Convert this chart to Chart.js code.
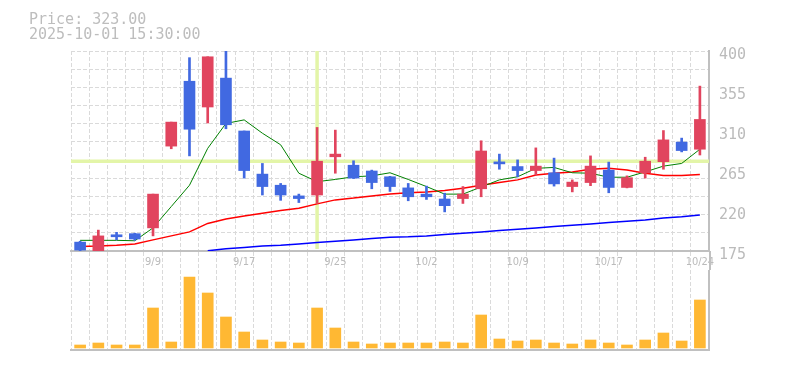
<!DOCTYPE html>
<html>
<head>
<meta charset="utf-8">
<script src="https://cdn.jsdelivr.net/npm/chart.js@4"></script>
<style>
  body { margin: 0; background: #fff; }
  #wrap { position: relative; width: 785px; height: 370px; }
  #info { position: absolute; left: 29px; top: 12px; font: 15px/15px "DejaVu Sans Mono", monospace; color: #bdbdbd; white-space: pre; }
  #mychart { position: absolute; left: 0; top: 0; }
  #mychart1 { position: absolute; left: 0; top: 270px; }
</style>
</head>
<body>
<div id="wrap">
  <canvas id="mychart" width="785" height="270"></canvas>
  <canvas id="mychart1" width="785" height="100"></canvas>
  <div id="info">Price: 323.00
2025-10-01 15:30:00</div>
</div>
<script>
var dates = ["9/3", "9/4", "9/5", "9/8", "9/9", "9/10", "9/11", "9/12", "9/16", "9/17",
  "9/18", "9/19", "9/22", "9/24", "9/25", "9/26", "9/29", "9/30", "10/1", "10/2",
  "10/3", "10/6", "10/7", "10/8", "10/9", "10/10", "10/14", "10/15", "10/16", "10/17",
  "10/20", "10/21", "10/22", "10/23", "10/24"];
var tickLabels = ["9/9", "9/17", "9/25", "10/2", "10/9", "10/17", "10/24"];

var opens  = [185, 174, 193, 194.5, 201, 293, 366, 337, 369.5, 310, 261.5, 249, 237, 238, 281, 271.5, 265, 258.5, 246, 239,
  233.5, 234, 245, 275, 270, 265.5, 263, 247.5, 252, 266, 246.5, 263, 275.5, 297.5, 289.5];
var highs  = [186, 198.5, 196, 195, 239, 320, 392.5, 393.5, 402, 310, 273.5, 251, 239, 314, 311, 276.5, 266, 259, 251, 248,
  240, 247.5, 299, 284, 277.5, 291, 279.5, 255, 282, 275, 259.5, 280.5, 310.5, 302, 360.5];
var lows   = [172, 170, 187.5, 187, 192, 290, 282, 319, 312.5, 257, 238, 232, 229.5, 228.5, 262.5, 256.5, 245, 242, 231.5, 233,
  219, 228.5, 236, 267, 258.5, 260.5, 248, 241.5, 248.5, 240.5, 246, 257, 267, 286.5, 283];
var closes = [176, 192, 191, 188.5, 239, 320, 312, 393.5, 317, 265.5, 247.5, 238, 234, 276, 284, 257, 252, 247.5, 236, 236,
  226, 239, 287.5, 273, 265.5, 270.5, 250.5, 252.5, 270.5, 246.5, 257.5, 276, 300, 288, 323];

var ma5  = [187, 187, 187, 186.5, 201, 225, 249, 290.5, 318.5, 322.5, 307.5, 294.5, 262.5, 253, 255.5, 258.5, 259.5, 263, 255.5, 247.5,
  239, 239, 247, 255, 258.5, 268, 269, 263, 262.5, 258, 258, 264, 270.5, 273.5, 289.5];
var ma25 = [180, 180.5, 181.5, 183, 187.5, 192, 196.5, 206, 211, 214.5, 217.5, 220.5, 223, 228, 232.5, 234.5, 237, 239, 240.5, 241.5,
  243, 245.5, 249, 252, 255, 260.5, 262.5, 264, 267, 268, 266, 262.5, 260, 260, 261];
var ma75 = [null, null, null, null, null, null, null, 175.3, 177.5, 179, 180.5, 181.5, 183, 184.5, 186, 187.5, 189, 190.5, 191, 192,
  193.5, 195, 196.5, 198, 199.5, 201, 202.5, 204, 205.5, 207, 208.5, 210, 212, 213.5, 215.5];

var volumes = [3000, 5000, 3000, 3000, 40000, 6000, 71000, 55000, 31000, 16000, 8000, 6000, 5000, 40000, 20000, 6000, 4000, 5000, 5000, 5000,
  6000, 5000, 33000, 9000, 7000, 8000, 5000, 4000, 8000, 5000, 3000, 8000, 15000, 7000, 48000];

// crosshair position (candle index, price)
var crossIndex = 13;
var crossPrice = 276;

var upColor = "#e1445e";
var downColor = "#4169e1";
var gridColor = "#dadada";
var axisColor = "#c0c0c0";
var textColor = "#bbbbbb";

var candleColors = [];
var bodies = [];
var wicks = [];
for (var i = 0; i < dates.length; i++) {
  candleColors.push(closes[i] >= opens[i] ? upColor : downColor);
  bodies.push([opens[i], closes[i]]);
  wicks.push([lows[i], highs[i]]);
}

var crosshair = {
  id: "crosshair",
  beforeDatasetsDraw: function(chart) {
    var ctx = chart.ctx, a = chart.chartArea;
    var x = chart.scales.x.getPixelForValue(crossIndex);
    var y = chart.scales.y.getPixelForValue(crossPrice);
    ctx.save();
    ctx.strokeStyle = "#e3f5a8";
    ctx.lineWidth = 3.5;
    ctx.beginPath();
    ctx.moveTo(x, a.top);
    ctx.lineTo(x, a.bottom - 2);
    ctx.moveTo(a.left, y);
    ctx.lineTo(a.right, y);
    ctx.stroke();
    ctx.restore();
  },
  afterDraw: function(chart) {
    // right border continues down through the date labels
    var ctx = chart.ctx, a = chart.chartArea;
    ctx.save();
    ctx.strokeStyle = axisColor;
    ctx.lineWidth = 2;
    ctx.beginPath();
    ctx.moveTo(a.right + 1, a.bottom);
    ctx.lineTo(a.right + 1, chart.height);
    ctx.stroke();
    ctx.restore();
  }
};

var ctx = document.getElementById("mychart");
var myCandleChart = new Chart(ctx, {
  type: "bar",
  data: {
    labels: dates,
    datasets: [
      { type: "line", data: ma5, borderColor: "#008000", borderWidth: 1, pointRadius: 0, order: 3, yAxisID: "y" },
      { type: "line", data: ma25, borderColor: "#ff0000", borderWidth: 1.5, pointRadius: 0, order: 3, yAxisID: "y" },
      { type: "line", data: ma75, borderColor: "#0000ff", borderWidth: 1.5, pointRadius: 0, order: 3, yAxisID: "y" },
      { data: wicks, backgroundColor: candleColors, barThickness: 2, grouped: false, order: 2, yAxisID: "y" },
      { data: bodies, backgroundColor: candleColors, barThickness: 11, minBarLength: 2, grouped: false, order: 1, yAxisID: "y" }
    ]
  },
  options: {
    responsive: false,
    animation: false,
    layout: { padding: { left: 71, top: 51, right: 0, bottom: 0 } },
    plugins: { legend: { display: false }, tooltip: { enabled: false } },
    scales: {
      x: {
        grid: { offset: true, color: gridColor, lineWidth: 1, drawTicks: true, tickLength: 20, tickColor: gridColor, tickBorderDash: [4, 2] },
        border: { color: axisColor, width: 2, dash: [4, 2] },
        ticks: {
          autoSkip: false, maxRotation: 0, padding: -15, color: textColor,
          font: { family: "'DejaVu Sans Condensed', 'DejaVu Sans'", size: 11 },
          callback: function(val, idx) {
            return tickLabels.indexOf(dates[idx]) >= 0 ? dates[idx] : "";
          }
        },
        afterFit: function(axis) { axis.height = 19; }
      },
      y: {
        position: "right", min: 175, max: 400,
        ticks: { stepSize: 45, padding: 10, labelOffset: 4.5, color: textColor, font: { family: "'DejaVu Sans Mono'", size: 15 } },
        grid: { display: false, drawTicks: false },
        border: { color: axisColor, width: 2 },
        afterFit: function(axis) { axis.width = 76; }
      },
      yGrid: {
        position: "left", min: 0, max: 11,
        ticks: { display: false, stepSize: 1 },
        grid: { color: gridColor, drawTicks: false },
        border: { display: false, dash: [4, 2] },
        afterFit: function(axis) { axis.width = 0; }
      }
    }
  },
  plugins: [crosshair]
});

var ctx2 = document.getElementById("mychart1");
var myVolumeChart = new Chart(ctx2, {
  type: "bar",
  data: {
    labels: dates,
    datasets: [
      { data: volumes, backgroundColor: "#ffb833", barThickness: 11 }
    ]
  },
  options: {
    responsive: false,
    animation: false,
    layout: { padding: { left: 71, top: 0, right: 0, bottom: 0 } },
    plugins: { legend: { display: false }, tooltip: { enabled: false } },
    scales: {
      x: {
        grid: { offset: true, color: gridColor, drawTicks: false },
        border: { color: axisColor, width: 2, dash: [4, 2] },
        ticks: { display: false },
        afterFit: function(axis) { axis.height = 20; }
      },
      y: {
        position: "right", min: -2000, max: 78000,
        ticks: { display: false },
        grid: { display: false, drawTicks: false },
        border: { color: axisColor, width: 2 },
        afterFit: function(axis) { axis.width = 76; }
      }
    }
  }
});
</script>
</body>
</html>
